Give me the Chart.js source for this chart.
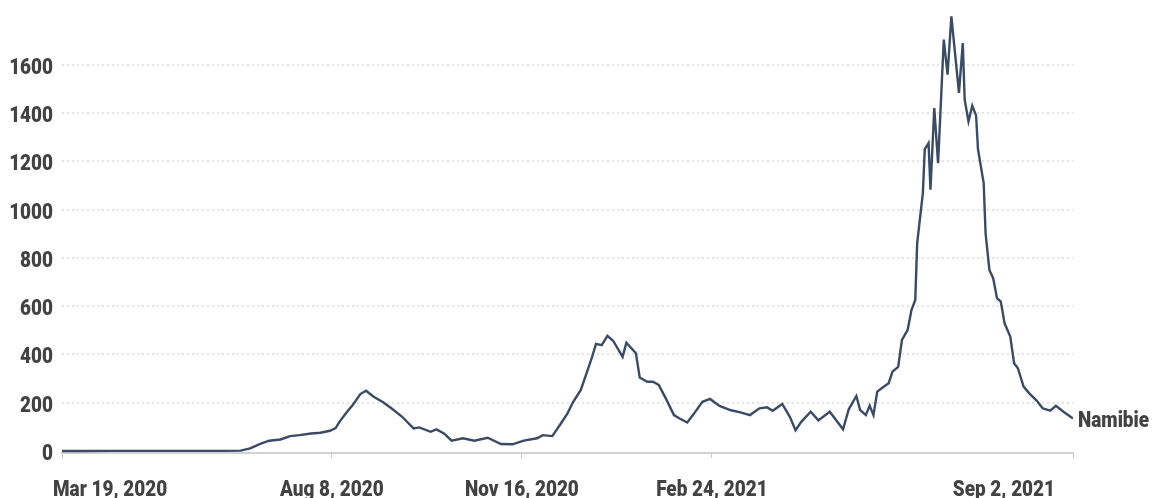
<!DOCTYPE html>
<html>
<head>
<meta charset="utf-8">
<script src="https://cdn.jsdelivr.net/npm/chart.js@4"></script>
<style>
    html, body { margin: 0; padding: 0; background: #ffffff; }
    #wrap { width: 1157px; height: 498px; }
</style>
</head>
<body>
<div id="wrap"><canvas id="casesChart" width="1157" height="498"></canvas></div>
<script>
// Namibia, new cases per day (smoothed). x = days since Mar 19, 2020
const days = [0, 12, 25, 40, 55, 70, 85, 94, 99, 104, 109, 115, 120, 125, 131, 136, 141, 144, 146, 150,
    153, 157, 160, 164, 169, 174, 179, 185, 188, 194, 197, 201, 205, 211, 217, 224, 231, 237, 243, 250,
    253, 258, 262, 266, 269, 273, 276, 279, 281, 284, 287, 290, 295, 297, 302, 304, 308, 311, 314, 318,
    322, 325, 329, 332, 337, 341, 346, 352, 357, 362, 367, 371, 374, 379, 383, 386, 389, 394, 398, 404,
    411, 414, 418, 420, 423, 425, 427, 429, 432, 435, 437, 440, 442, 445, 447, 449, 450, 451, 452, 453,
    454, 456, 457, 459, 461, 464, 466, 468, 472, 474, 475, 477, 479, 481, 482, 485, 486, 488, 490, 492,
    494, 496, 499, 501, 503, 506, 509, 513, 516, 520, 523, 527, 532];
const cases = [0, 0, 1, 1, 1, 1, 1, 2, 11, 29, 43, 48, 62, 66, 73, 76, 84, 95, 121, 163,
    191, 236, 250, 225, 202, 173, 142, 94, 98, 80, 90, 73, 43, 53, 43, 55, 29, 28, 43, 53,
    66, 62, 108, 156, 204, 253, 322, 391, 444, 439, 477, 457, 390, 449, 405, 305, 287, 287, 274, 214,
    149, 135, 118, 149, 204, 216, 187, 169, 160, 149, 177, 181, 167, 195, 142, 86, 121, 163, 127, 163,
    90, 173, 228, 170, 149, 188, 149, 246, 264, 281, 329, 349, 460, 502, 584, 626, 861, 930, 1000, 1068,
    1250, 1275, 1082, 1420, 1192, 1704, 1559, 1800, 1483, 1690, 1455, 1365, 1430, 1390, 1250, 1110, 902, 750, 716, 633,
    619, 529, 474, 364, 343, 267, 239, 208, 177, 167, 187, 163, 135];
const seriesLabel = 'Namibie';

const xTickDays = [0, 142, 242, 342, 532];
const xTickLabels = ['Mar 19, 2020', 'Aug 8, 2020', 'Nov 16, 2020', 'Feb 24, 2021', 'Sep 2, 2021'];
const yTicks = [0, 200, 400, 600, 800, 1000, 1200, 1400, 1600];

const FONT = '900 22px Roboto, "Noto Sans", sans-serif';
const SQUEEZE = 0.86;   // original uses a condensed face
const TEXT_COLOR = '#424242';
const LINE_COLOR = '#3a4b66';

function condensedText(ctx, text, x, y, align) {
    ctx.save();
    ctx.translate(x, y);
    ctx.scale(SQUEEZE, 1);
    ctx.textAlign = align;
    ctx.fillText(text, 0, 0);
    ctx.restore();
}

// all the text: y tick labels, x labels (first/last pulled inside) and the series name
const labelsPlugin = {
    id: 'labels',
    afterDraw(chart) {
        const ctx = chart.ctx;
        const xScale = chart.scales.x;
        const yScale = chart.scales.y;
        ctx.save();
        ctx.font = FONT;
        ctx.fillStyle = TEXT_COLOR;
        ctx.textBaseline = 'alphabetic';

        yTicks.forEach(v => {
            condensedText(ctx, String(v), chart.chartArea.left - 9, yScale.getPixelForValue(v) + 9, 'right');
        });

        xTickDays.forEach((d, i) => {
            const px = xScale.getPixelForValue(d);
            const base = xScale.bottom - 2;
            if (i === 0) {
                condensedText(ctx, xTickLabels[i], px - 9, base, 'left');
            } else if (i === xTickDays.length - 1) {
                condensedText(ctx, xTickLabels[i], px - 18, base, 'right');
            } else {
                condensedText(ctx, xTickLabels[i], px, base, 'center');
            }
        });

        const meta = chart.getDatasetMeta(0);
        const last = meta.data[meta.data.length - 1];
        condensedText(ctx, seriesLabel, last.x + 5, last.y + 9, 'left');
        ctx.restore();
    }
};

new Chart(document.getElementById('casesChart'), {
    type: 'line',
    data: {
        datasets: [{
            label: seriesLabel,
            data: days.map((d, i) => ({ x: d, y: cases[i] })),
            borderColor: LINE_COLOR,
            borderWidth: 2.4,
            pointRadius: 0,
            tension: 0,
            fill: false
        }]
    },
    options: {
        responsive: false,
        animation: false,
        devicePixelRatio: 1,
        layout: { padding: { top: 14, right: 84, left: 0, bottom: 0 } },
        plugins: {
            legend: { display: false },
            tooltip: { enabled: false }
        },
        scales: {
            x: {
                type: 'linear',
                min: 0,
                max: 532,
                afterBuildTicks: s => { s.ticks = xTickDays.map(v => ({ value: v })); },
                afterFit: s => { s.height = 45; },
                ticks: { display: false },
                grid: { drawOnChartArea: false, drawTicks: true, tickLength: 5, color: '#c4c4c4', lineWidth: 1 },
                border: { display: true, color: '#d2d2d2', width: 2 }
            },
            y: {
                min: -8,
                max: 1810,
                afterBuildTicks: s => { s.ticks = yTicks.map(v => ({ value: v })); },
                afterFit: s => { s.width = 62; },
                ticks: { display: false },
                grid: {
                    drawTicks: false,
                    lineWidth: 2,
                    color: c => (c.tick && c.tick.value === 0) ? 'rgba(0,0,0,0)' : '#e2e2e2'
                },
                border: { display: false, dash: [2, 3] }
            }
        }
    },
    plugins: [labelsPlugin]
});
</script>
</body>
</html>
